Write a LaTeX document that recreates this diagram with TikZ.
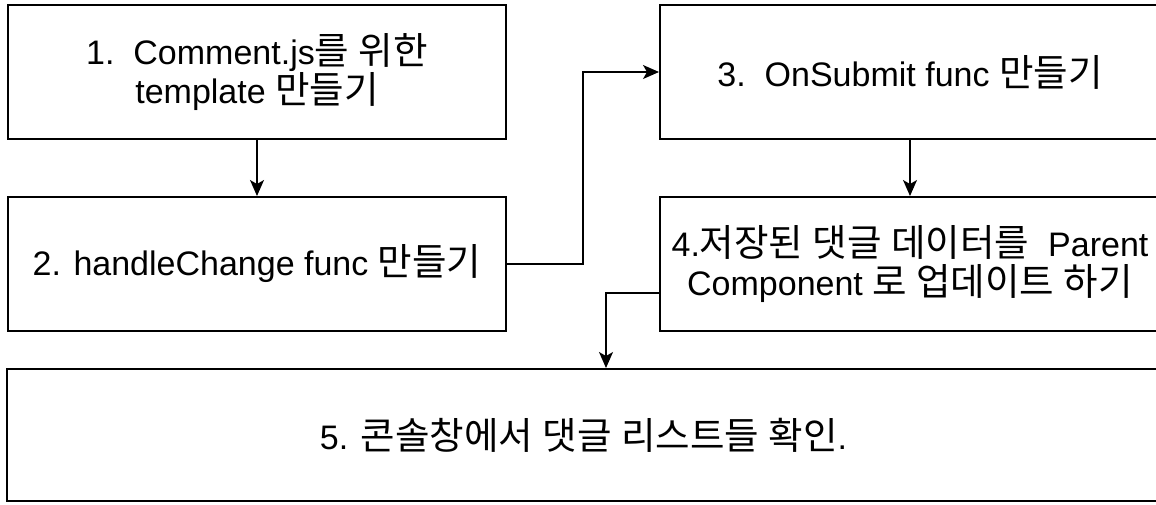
\documentclass[tikz,border=0pt]{standalone}
\usepackage{fontspec}
\setmainfont{Liberation Sans}
\newfontfamily\krfont{Noto Sans CJK KR}
\newcommand\hk[1]{{\krfont\fontsize{37.5}{39}\selectfont #1}}
\usetikzlibrary{arrows.meta}
\begin{document}
\begin{tikzpicture}[x=1pt,y=-1pt,
  box/.style={draw=black,line width=2pt,rectangle,inner sep=0pt,align=center,
    font=\fontsize{34}{39}\selectfont},
  conn/.style={draw=black,line width=1.3pt,-{Stealth[length=16pt,width=14pt,inset=4pt]}}]
\fill[white] (0,0) rectangle (1156,504);
\useasboundingbox (0,0) rectangle (1156,504);
\clip (0,0) rectangle (1156,504);
\node[box,minimum width=498pt,minimum height=134pt] (b1) at (257,72)
  {1.\ \ Comment.js\hk{를} \hk{위한}\\template \hk{만들기}};
\node[box,minimum width=498pt,minimum height=134pt] (b2) at (257,264)
  {2. handleChange func \hk{만들기}};
\node[box,minimum width=500pt,minimum height=134pt] (b3) at (910,72)
  {3.\ \ OnSubmit func \hk{만들기}};
\node[box,minimum width=500pt,minimum height=134pt] (b4) at (910,264)
  {4.\hk{저장된} \hk{댓글} \hk{데이터를}\ \ Parent\\Component \hk{로} \hk{업데이트} \hk{하기}};
\node[box,minimum width=1153pt,minimum height=132pt] (b5) at (583.5,435)
  {5. \hk{콘솔창에서} \hk{댓글} \hk{리스트들} \hk{확인}.};
\coordinate (m23) at (583,72);
\draw[conn] (b1.south) -- (b2.north);
\draw[conn] (b2.east) -| (m23) -- (b3.west);
\draw[conn] (b3.south) -- (b4.north);
\draw[conn] ([yshift=-29pt]b4.west) -| ([xshift=22.5pt]b5.north);
\end{tikzpicture}
\end{document}
